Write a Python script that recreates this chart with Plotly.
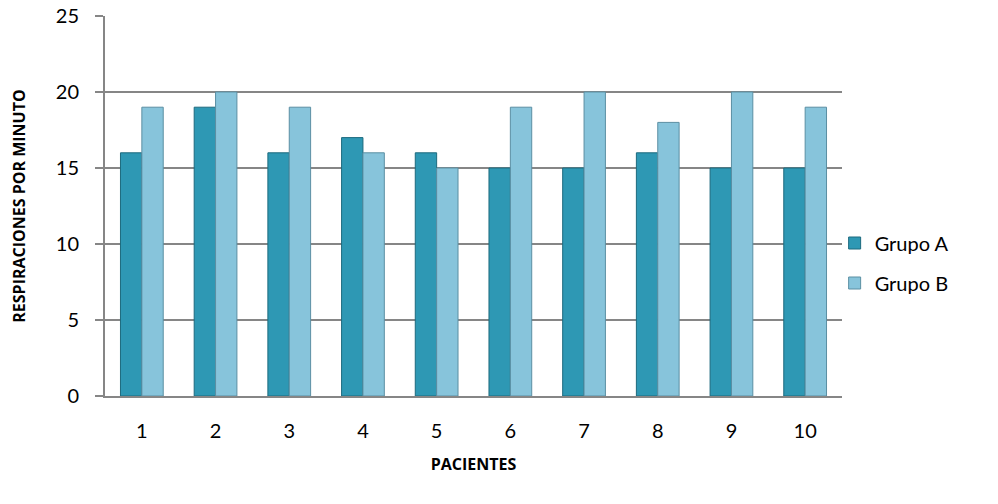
import plotly.graph_objects as go

pacientes = ["1", "2", "3", "4", "5", "6", "7", "8", "9", "10"]
grupo_a = [16, 19, 16, 17, 16, 15, 15, 16, 15, 15]
grupo_b = [19, 20, 19, 16, 15, 19, 20, 18, 20, 19]
y_ticks = [0, 5, 10, 15, 20, 25]

FONT = "Lato, Open Sans, sans-serif"
TITLE_FONT = "Open Sans, Lato, sans-serif"

fig = go.Figure()
fig.add_trace(go.Bar(
    x=pacientes, y=grupo_a, name="Grupo A", legendgroup="a",
    marker=dict(color="#2E98B4", line=dict(color="#1D6A7E", width=1)),
))
fig.add_trace(go.Bar(
    x=pacientes, y=grupo_b, name="Grupo B", legendgroup="b",
    marker=dict(color="#87C4DB", line=dict(color="#5B8FA3", width=1)),
))

fig.update_layout(
    width=998, height=504,
    margin=dict(l=105, r=156, t=16, b=108, autoexpand=False),
    paper_bgcolor="white", plot_bgcolor="white",
    barmode="group", bargap=0.42, bargroupgap=0,
    font=dict(family=FONT, size=20, color="#000000"),
    legend=dict(
        x=0.99, xanchor="left", xref="paper", y=0.35, yanchor="middle",
        font=dict(size=20), itemwidth=30, tracegroupgap=11,
        bgcolor="rgba(0,0,0,0)", borderwidth=0,
    ),
    showlegend=True,
)
fig.update_xaxes(
    type="category", showgrid=False, showline=True, linecolor="#868686", linewidth=2,
    ticks="", ticklabelstandoff=16, tickfont=dict(size=20), automargin=False,
    title=dict(text="<b>PACIENTES</b>", font=dict(family=TITLE_FONT, size=16), standoff=18),
)
fig.update_yaxes(
    range=[0, 25], tickvals=y_ticks, showgrid=True, gridcolor="#868686", gridwidth=1.5,
    showline=True, linecolor="#868686", linewidth=2,
    ticks="outside", ticklen=8, tickcolor="#868686", tickwidth=1.5,
    ticklabelstandoff=12, tickfont=dict(size=20), zeroline=False, automargin=False,
    title=dict(text="<b>RESPIRACIONES POR MINUTO</b>", font=dict(family=TITLE_FONT, size=16), standoff=26),
)

fig.write_html("out.html")
